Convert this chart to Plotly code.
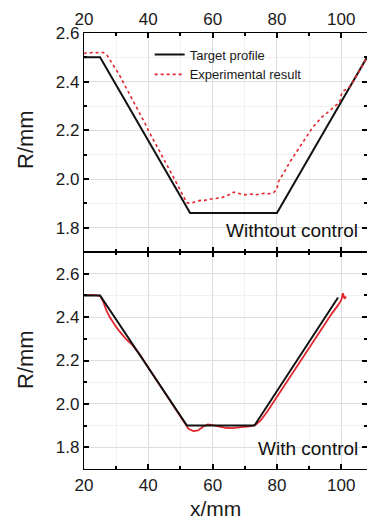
import plotly.graph_objects as go

# ---------------- data ----------------
# Top panel (without control)
top_target_x = [20, 25, 53, 80, 108]
top_target_y = [2.50, 2.50, 1.86, 1.86, 2.50]

top_exp_x = [20, 21, 22, 23, 24, 25, 26, 27, 28, 29, 30, 31, 32, 33, 34, 35, 36, 37, 38, 39,
             40, 41, 42, 43, 44, 45, 46, 47, 48, 49, 50, 51, 52, 53, 54, 55, 56, 57, 58, 59,
             60, 61, 62, 63, 64, 65, 66, 66.5, 67, 68, 69, 70, 71, 72, 73, 74, 75, 76, 77, 78,
             79, 79.5, 80, 80.5, 81, 82, 83, 84, 85, 86, 87, 88, 89, 90, 91, 92, 93, 94, 95, 96,
             97, 98, 99, 99.5, 100, 100.5, 101, 102, 103, 104, 105, 106, 107, 108]
top_exp_y = [2.515, 2.520, 2.518, 2.522, 2.519, 2.521, 2.520, 2.512, 2.492, 2.470, 2.450, 2.428, 2.402, 2.378, 2.352, 2.330, 2.302, 2.280, 2.252, 2.228,
             2.200, 2.176, 2.152, 2.128, 2.100, 2.075, 2.052, 2.030, 2.002, 1.978, 1.952, 1.925, 1.902, 1.900, 1.905, 1.908, 1.912, 1.910, 1.915, 1.918,
             1.918, 1.920, 1.922, 1.924, 1.930, 1.934, 1.940, 1.946, 1.944, 1.940, 1.938, 1.935, 1.937, 1.938, 1.934, 1.936, 1.939, 1.941, 1.938, 1.940,
             1.944, 1.952, 1.960, 1.990, 2.000, 2.020, 2.045, 2.070, 2.090, 2.110, 2.132, 2.150, 2.172, 2.192, 2.210, 2.225, 2.240, 2.255, 2.265, 2.275,
             2.288, 2.300, 2.308, 2.315, 2.345, 2.360, 2.365, 2.372, 2.385, 2.405, 2.430, 2.452, 2.476, 2.500]

# Bottom panel (with control)
bot_target_x = [20, 25, 52, 73, 99]
bot_target_y = [2.50, 2.50, 1.90, 1.90, 2.49]

bot_exp_x = [20, 22, 24, 25, 26, 27, 28, 29, 30, 31, 33, 35, 36, 37.5, 39, 41, 43, 45, 47, 49,
             51, 52.5, 54, 55.5, 57, 58.5, 60, 62, 64, 66, 68, 70, 72, 73.5, 75, 77, 79, 81, 83, 85,
             87, 89, 91, 93, 95, 97, 99, 100, 100.5, 101, 101.5]
bot_exp_y = [2.500, 2.502, 2.500, 2.498, 2.470, 2.430, 2.400, 2.375, 2.355, 2.335, 2.300, 2.272, 2.255, 2.225, 2.190, 2.145, 2.100, 2.055, 2.010, 1.960,
             1.915, 1.885, 1.875, 1.878, 1.895, 1.905, 1.902, 1.895, 1.890, 1.888, 1.892, 1.895, 1.898, 1.905, 1.925, 1.965, 2.010, 2.060, 2.105, 2.150,
             2.195, 2.240, 2.285, 2.330, 2.372, 2.415, 2.455, 2.478, 2.510, 2.485, 2.495]

x_ticks = [20, 40, 60, 80, 100]
y_ticks = [1.8, 2.0, 2.2, 2.4, 2.6]
y_tick_labels = ["1.8", "2.0", "2.2", "2.4", "2.6"]

# ---------------- figure ----------------
FONT = "Liberation Sans, Arial, sans-serif"
RED = "#e3262d"
TXT = "#1a1a1a"

fig = go.Figure()
fig.add_trace(go.Scatter(x=top_target_x, y=top_target_y, mode="lines", name="Target profile",
                         line=dict(color="#111111", width=2), xaxis="x", yaxis="y"))
fig.add_trace(go.Scatter(x=top_exp_x, y=top_exp_y, mode="lines", name="Experimental result",
                         line=dict(color=RED, width=1.6, dash="dot"), xaxis="x", yaxis="y"))
fig.add_trace(go.Scatter(x=bot_exp_x, y=bot_exp_y, mode="lines", showlegend=False,
                         line=dict(color=RED, width=1.8), xaxis="x2", yaxis="y2"))
fig.add_trace(go.Scatter(x=bot_target_x, y=bot_target_y, mode="lines", showlegend=False,
                         line=dict(color="#111111", width=2), xaxis="x2", yaxis="y2"))

PL, PT, PW, PH = 84, 33, 283, 436
PB = 53
split = 217 / PH

common_x = dict(range=[20, 108], tickvals=x_ticks, ticks="inside", ticklen=5, tickwidth=1.5,
                tickcolor="black", showline=True, linecolor="black", linewidth=1.4, mirror="ticks",
                showgrid=True, gridcolor="#dedede", gridwidth=1, zeroline=False, automargin=False,
                minor=dict(dtick=10, ticks="inside", ticklen=3, tickcolor="black",
                           showgrid=True, gridcolor="#f1f1f1"),
                tickfont=dict(family=FONT, size=17, color=TXT))
common_y = dict(tickvals=y_ticks, ticktext=y_tick_labels, ticks="inside", ticklen=5, tickwidth=1.5,
                tickcolor="black", showline=True, linecolor="black", linewidth=1.4, mirror="ticks",
                showgrid=True, gridcolor="#dedede", gridwidth=1, zeroline=False, automargin=False,
                minor=dict(dtick=0.1, ticks="inside", ticklen=3, tickcolor="black",
                           showgrid=True, gridcolor="#f1f1f1"),
                tickfont=dict(family=FONT, size=17, color=TXT))

fig.update_layout(
    width=PL + PW, height=PT + PH + PB,
    margin=dict(l=PL, r=0, t=PT, b=PB),
    paper_bgcolor="white", plot_bgcolor="white",
    showlegend=True,
    legend=dict(x=0.232, y=0.985, xanchor="left", yanchor="top", bgcolor="rgba(0,0,0,0)",
                font=dict(family=FONT, size=13, color=TXT), itemwidth=30,
                tracegroupgap=0),
    xaxis=dict(common_x, domain=[0, 1], anchor="y", side="top"),
    yaxis=dict(common_y, domain=[split, 1], anchor="x", range=[1.7, 2.6]),
    xaxis2=dict(common_x, domain=[0, 1], anchor="y2", side="bottom"),
    yaxis2=dict(common_y, domain=[0, split], anchor="x2", range=[1.7, 2.7]),
    annotations=[
        dict(text="R/mm", xref="paper", yref="paper", x=-59 / PW, y=(436 - 107) / PH,
             xanchor="center", yanchor="middle", textangle=-90, showarrow=False,
             font=dict(family=FONT, size=22, color=TXT)),
        dict(text="R/mm", xref="paper", yref="paper", x=-59 / PW, y=(436 - 327) / PH,
             xanchor="center", yanchor="middle", textangle=-90, showarrow=False,
             font=dict(family=FONT, size=22, color=TXT)),
        dict(text="x/mm", xref="paper", yref="paper", x=131 / PW, y=-40 / PH,
             xanchor="center", yanchor="middle", showarrow=False,
             font=dict(family=FONT, size=21, color=TXT)),
        dict(text="Withtout control", xref="paper", yref="paper", x=0.975, y=(436 - 197) / PH,
             xanchor="right", yanchor="middle", showarrow=False,
             font=dict(family=FONT, size=19, color="#111")),
        dict(text="With control", xref="paper", yref="paper", x=0.975, y=(436 - 415) / PH,
             xanchor="right", yanchor="middle", showarrow=False,
             font=dict(family=FONT, size=19, color="#111")),
    ],
)

fig.write_html("out.html", config={"displayModeBar": False},
               post_script="document.body.style.margin='0';document.body.style.overflow='hidden';")
